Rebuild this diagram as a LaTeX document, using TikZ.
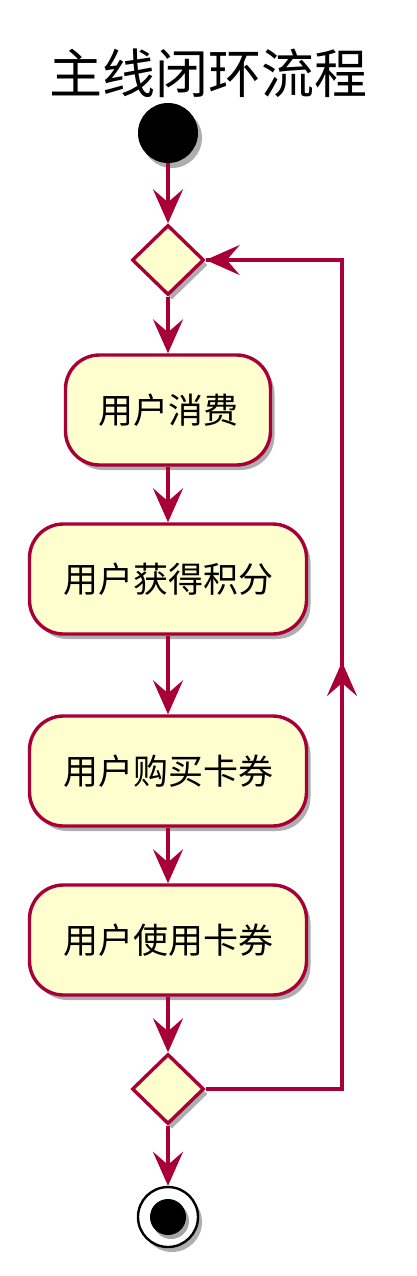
\documentclass[tikz,border=0pt]{standalone}
\usepackage{fontspec}
\newfontfamily\cjk{Noto Sans CJK SC}
\usetikzlibrary{shapes.geometric,arrows.meta,shadows}
\definecolor{umlline}{HTML}{A80036}
\definecolor{umlfill}{HTML}{FEFECE}
\tikzset{
  shad/.style={drop shadow={shadow xshift=4pt,shadow yshift=-5pt,opacity=0.45,fill=black!70}},
  actbox/.style={draw=umlline,fill=umlfill,line width=3.4pt,rounded corners=34pt,
    minimum height=110pt,inner sep=0pt,font=\cjk\fontsize{35}{42}\selectfont,shad},
  decis/.style={draw=umlline,fill=umlfill,line width=3.4pt,diamond,inner sep=0pt,
    minimum width=72pt,minimum height=70pt,shad},
  flow/.style={draw=umlline,line width=3.4pt,-{Stealth[length=34pt,width=30pt,inset=13pt]}},
  plain/.style={draw=umlline,line width=3.4pt},
}
\begin{document}
\begin{tikzpicture}[x=1pt,y=-1pt]
\useasboundingbox (0,0) rectangle (417,1276);
\node[font=\cjk\fontsize{53}{63}\selectfont,inner sep=0pt] (title) at (208,73) {主线闭环流程};
\node[circle,fill=black,minimum size=60pt,inner sep=0pt,shad] (start) at (168,133) {};
\node[decis] (d1) at (168,260) {};
\node[actbox,minimum width=205pt] (a1) at (168,410) {用户消费};
\node[actbox,minimum width=277pt] (a2) at (168,579) {用户获得积分};
\node[actbox,minimum width=277pt] (a3) at (168,771) {用户购买卡券};
\node[actbox,minimum width=277pt] (a4) at (168,940) {用户使用卡券};
\node[decis] (d2) at (168,1089) {};
\node[circle,draw=black,line width=2.4pt,fill=white,minimum size=60pt,inner sep=0pt,shad] (stop) at (168,1217) {};
\node[circle,fill=black,minimum size=36pt,inner sep=0pt,drop shadow={shadow xshift=3pt,shadow yshift=-4pt,opacity=0.5,fill=black!70}] (stopin) at (168,1217) {};
\coordinate (rb) at (342,1089);
\coordinate (rm) at (342,662);
\coordinate (rt) at (342,260);
\draw[flow] (start) -- (d1);
\draw[flow] (d1) -- (a1);
\draw[flow] (a1) -- (a2);
\draw[flow] (a2) -- (a3);
\draw[flow] (a3) -- (a4);
\draw[flow] (a4) -- (d2);
\draw[flow] (d2) -- (stop);
\draw[plain,line join=miter] (d2.east) -- (rb) -- (rm);
\draw[flow] (rb) -- (rm);
\draw[plain,line join=miter] (rm) -- (rt) -- (d1.east);
\draw[flow] (rt) -- (d1.east);
\end{tikzpicture}
\end{document}
